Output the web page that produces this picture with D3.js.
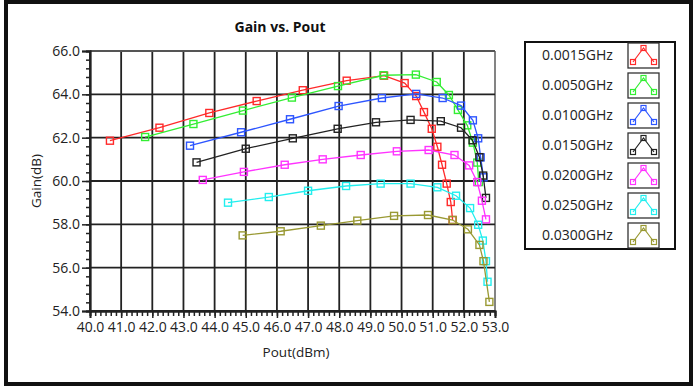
<!DOCTYPE html>
<html>
<head>
<meta charset="utf-8">
<script src="https://cdn.jsdelivr.net/npm/d3@7"></script>
<style>
  html, body { margin: 0; padding: 0; background: #fff; }
  svg { display: block; font-family: "Open Sans", "Noto Sans", sans-serif; }
</style>
</head>
<body>
<svg id="chart" width="695" height="387"></svg>
<script>
// Gain vs. output power, one series per frequency
const frequencies = ["0.0015GHz", "0.0050GHz", "0.0100GHz", "0.0150GHz", "0.0200GHz", "0.0250GHz", "0.0300GHz"];
const seriesColors = ["#ff2a2a", "#33ee33", "#2d55ff", "#222222", "#ff33ff", "#22eeee", "#999933"];

const pout0015 = [40.64, 42.23, 43.83, 45.35, 46.83, 48.24, 49.44, 50.10, 50.47, 50.72, 50.97, 51.15, 51.30, 51.45, 51.58, 51.64];
const gain0015 = [61.86, 62.46, 63.14, 63.69, 64.19, 64.63, 64.86, 64.52, 63.92, 63.18, 62.41, 61.58, 60.75, 59.88, 59.03, 58.20];

const pout0050 = [41.77, 43.32, 44.91, 46.48, 47.96, 49.42, 50.46, 51.13, 51.52, 51.81, 52.11, 52.29, 52.43, 52.48];
const gain0050 = [62.03, 62.63, 63.25, 63.85, 64.38, 64.88, 64.91, 64.57, 63.97, 63.28, 62.57, 61.77, 60.85, 59.95];

const pout0100 = [43.21, 44.85, 46.42, 47.98, 49.37, 50.47, 51.32, 51.91, 52.29, 52.46, 52.54, 52.63];
const gain0100 = [61.63, 62.25, 62.85, 63.46, 63.83, 64.02, 63.83, 63.48, 62.80, 61.97, 61.09, 60.17];

const pout0150 = [43.42, 45.00, 46.51, 47.95, 49.18, 50.29, 51.26, 51.91, 52.28, 52.50, 52.62, 52.71];
const gain0150 = [60.86, 61.49, 61.97, 62.41, 62.71, 62.82, 62.76, 62.46, 61.88, 61.10, 60.25, 59.22];

const pout0200 = [43.62, 44.94, 46.25, 47.47, 48.69, 49.85, 50.87, 51.70, 52.17, 52.43, 52.58, 52.71];
const gain0200 = [60.05, 60.42, 60.75, 61.00, 61.20, 61.37, 61.43, 61.20, 60.72, 59.95, 59.09, 58.23];

const pout0250 = [44.43, 45.74, 47.00, 48.22, 49.33, 50.29, 51.15, 51.75, 52.20, 52.46, 52.61, 52.71, 52.76];
const gain0250 = [59.00, 59.26, 59.55, 59.77, 59.88, 59.88, 59.71, 59.32, 58.75, 57.98, 57.25, 56.30, 55.35];

const pout0300 = [44.90, 46.12, 47.41, 48.58, 49.76, 50.85, 51.64, 52.13, 52.50, 52.63, 52.82];
const gain0300 = [57.49, 57.68, 57.94, 58.17, 58.39, 58.43, 58.20, 57.77, 57.05, 56.30, 54.42];

const xTicks = [40, 41, 42, 43, 44, 45, 46, 47, 48, 49, 50, 51, 52, 53];
const yTicks = [54, 56, 58, 60, 62, 64, 66];

const poutSets = [pout0015, pout0050, pout0100, pout0150, pout0200, pout0250, pout0300];
const gainSets = [gain0015, gain0050, gain0100, gain0150, gain0200, gain0250, gain0300];
const series = frequencies.map((f, i) => ({
  name: f,
  color: seriesColors[i],
  points: poutSets[i].map((p, j) => ({ x: p, y: gainSets[i][j] }))
}));

const svg = d3.select("#chart");

// outer frame
svg.append("rect").attr("x", 6).attr("y", 2).attr("width", 685).attr("height", 382)
  .attr("fill", "#fff").attr("stroke", "#111").attr("stroke-width", 4);

const x = d3.scaleLinear().domain([40, 53]).range([90, 495]);
const y = d3.scaleLinear().domain([54, 66]).range([311, 51]);

// title
svg.append("text").attr("x", 280).attr("y", 32).attr("text-anchor", "middle")
  .attr("font-size", 14).attr("font-weight", "bold").attr("fill", "#111").text("Gain vs. Pout");

// grid
const grid = svg.append("g");
grid.selectAll("line.v").data(xTicks).join("line")
  .attr("x1", d => x(d)).attr("x2", d => x(d)).attr("y1", y(66)).attr("y2", y(54))
  .attr("stroke", d => (d === 53 ? "#777" : "#222")).attr("stroke-width", 1.8);
grid.selectAll("line.h").data(yTicks).join("line")
  .attr("x1", x(40)).attr("x2", x(53)).attr("y1", d => y(d)).attr("y2", d => y(d))
  .attr("stroke", d => (d === 66 ? "#555" : "#222")).attr("stroke-width", 1.8);

// axes
const minorX = d3.range(40, 53.0001, 1 / 6);
const minorY = d3.range(54, 66.0001, 0.4);

const xMinor = svg.append("g").attr("transform", `translate(0,${y(54)})`)
  .call(d3.axisBottom(x).tickValues(minorX).tickSize(5).tickFormat(""));
const xAxis = svg.append("g").attr("transform", `translate(0,${y(54)})`)
  .call(d3.axisBottom(x).tickValues(xTicks).tickSize(7).tickPadding(4).tickFormat(d3.format(".1f")));
const yMinor = svg.append("g").attr("transform", `translate(${x(40)},0)`)
  .call(d3.axisLeft(y).tickValues(minorY).tickSize(4).tickFormat(""));
const yAxis = svg.append("g").attr("transform", `translate(${x(40)},0)`)
  .call(d3.axisLeft(y).tickValues(yTicks).tickSize(8).tickPadding(2).tickFormat(d3.format(".1f")));

[xMinor, xAxis, yMinor, yAxis].forEach(g => {
  g.select(".domain").attr("stroke", "#222").attr("stroke-width", 1.8);
  g.selectAll(".tick line").attr("stroke", "#222").attr("stroke-width", 1.5);
  g.selectAll(".tick text").attr("font-size", 14).attr("fill", "#222")
    .attr("font-family", "'Open Sans', 'Noto Sans', sans-serif");
});

// axis titles
svg.append("text").attr("x", 296).attr("y", 357).attr("text-anchor", "middle")
  .attr("font-size", 13.5).attr("fill", "#222").text("Pout(dBm)");
svg.append("text").attr("transform", "translate(41,181) rotate(-90)").attr("text-anchor", "middle")
  .attr("font-size", 13.5).attr("fill", "#222").text("Gain(dB)");

// series
const line = d3.line().x(d => x(d.x)).y(d => y(d.y));
const plot = svg.append("g");
series.forEach(s => {
  const g = plot.append("g");
  g.append("path").attr("d", line(s.points)).attr("fill", "none")
    .attr("stroke", s.color).attr("stroke-width", 1.3);
  g.selectAll("rect").data(s.points).join("rect")
    .attr("x", d => x(d.x) - 3.5).attr("y", d => y(d.y) - 3.5)
    .attr("width", 7).attr("height", 7)
    .attr("fill", "none").attr("stroke", s.color).attr("stroke-width", 1.4);
});

// legend
const legend = svg.append("g");
legend.append("rect").attr("x", 525).attr("y", 42).attr("width", 150).attr("height", 207)
  .attr("fill", "#fff").attr("stroke", "#111").attr("stroke-width", 2);
series.forEach((s, i) => {
  const top = 43 + i * 30;
  const row = legend.append("g");
  row.append("text").attr("x", 542).attr("y", top + 13).attr("dominant-baseline", "middle")
    .attr("font-size", 14).attr("fill", "#222").text(s.name);
  row.append("rect").attr("x", 628).attr("y", top).attr("width", 31).attr("height", 25)
    .attr("fill", "#fff").attr("stroke", "#333").attr("stroke-width", 1.3);
  const pts = [[633, top + 19], [643.5, top + 5], [654, top + 19]];
  row.append("polyline").attr("points", pts.map(p => p.join(",")).join(" "))
    .attr("fill", "none").attr("stroke", s.color).attr("stroke-width", 1.2);
  pts.forEach(p => {
    row.append("rect").attr("x", p[0] - 2.5).attr("y", p[1] - 2.5).attr("width", 5).attr("height", 5)
      .attr("fill", "none").attr("stroke", s.color).attr("stroke-width", 1.2);
  });
});
</script>
</body>
</html>
